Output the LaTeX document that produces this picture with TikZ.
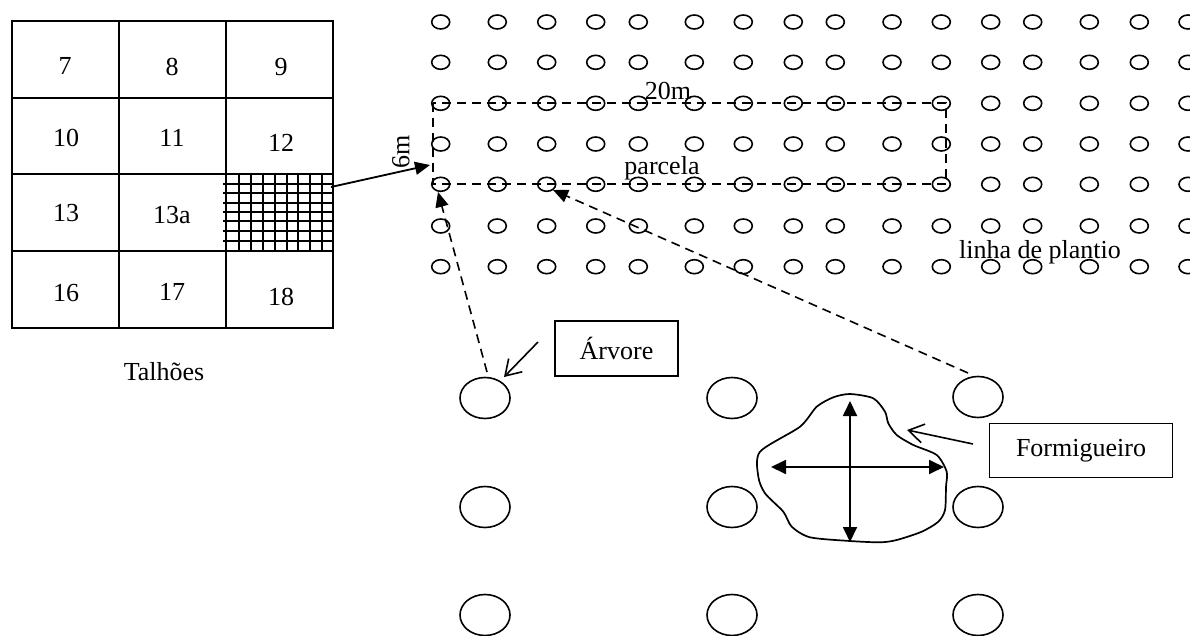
\documentclass[tikz,border=0pt]{standalone}
\usepackage{fontspec}
\setmainfont{Liberation Serif}
\usetikzlibrary{arrows.meta,shapes.geometric}
\begin{document}
\begin{tikzpicture}[x=1pt,y=-1pt,
  lbl/.style={font=\fontsize{26}{30}\selectfont, inner sep=0pt},
  gridline/.style={line width=2.2pt},
  hatch/.style={line width=1.8pt},
  dot/.style={line width=1.6pt},
  tree/.style={draw, ellipse, line width=1.6pt, minimum width=50pt, minimum height=41pt, inner sep=0pt},
  labelbox/.style={draw, line width=1.6pt, font=\fontsize{26}{30}\selectfont, inner sep=0pt},
  dashline/.style={line width=1.6pt, dash pattern=on 9pt off 6pt},
  solidarrow/.style={line width=1.8pt, -{Triangle[length=15pt,width=13pt]}},
  dasharrow/.style={line width=1.6pt, dash pattern=on 9pt off 6pt, -{Triangle[length=15pt,width=13pt]}},
  barbarrow/.style={line width=1.6pt, -{Straight Barb[length=15pt,width=19pt]}},
  dblarrow/.style={line width=1.8pt, {Triangle[length=15pt,width=14pt]}-{Triangle[length=15pt,width=14pt]}}
]
\useasboundingbox (0,0) rectangle (1190,636);
\fill[white] (0,0) rectangle (1190,636);

% --- Talhoes grid ---
\foreach \yy in {184.3,193.3,202.7,211.7,221,230.7,240.7}
  \draw[hatch] (223,\yy) -- (333,\yy);
\foreach \xx in {238.7,250.7,263.3,275,286.7,298.3,310,322.3}
  \draw[hatch] (\xx,174) -- (\xx,251);
\draw[gridline] (12,21) rectangle (333,328);
\foreach \xx in {119,226}
  \draw[gridline] (\xx,21) -- (\xx,328);
\foreach \yy in {98,174,251}
  \draw[gridline] (12,\yy) -- (333,\yy);

\node[lbl] (n7)  at (65,66)  {7};
\node[lbl] (n8)  at (172,67) {8};
\node[lbl] (n9)  at (281,67) {9};
\node[lbl] (n10) at (66,138) {10};
\node[lbl] (n11) at (172,138) {11};
\node[lbl] (n12) at (281,143) {12};
\node[lbl] (n13) at (66,213) {13};
\node[lbl] (n13a) at (172,215) {13a};
\node[lbl] (n16) at (66,293) {16};
\node[lbl] (n17) at (172,292) {17};
\node[lbl] (n18) at (281,297) {18};
\node[lbl] (talhoes) at (164,372) {Talhões};

% --- planting dots ---
\foreach \xx in {440.7,497.3,546.7,595.7,638.3,694.3,743.3,793.3,835.3,892,941.3,990.7,1032.7,1089.3,1139.3,1188}
  \foreach \yy in {22,62.3,103.3,144,184.3,226,266.7}
    \draw[dot] (\xx,\yy) ellipse [x radius=9, y radius=7];

% --- parcela ---
\draw[dashline] (433,103.3) rectangle (946,184.3);
\node[lbl] (m20) at (668,91) {20m};
\node[lbl] (parcela) at (662,168) {parcela};
\node[lbl, rotate=90] (m6) at (401,152) {6m};
\node[lbl] (linha) at (1040,252) {linha de plantio};

\coordinate (hs) at (331,187);
\coordinate (pl) at (430,165);
\draw[solidarrow] (hs) -- (pl);

% --- trees ---
\node[tree] (t11) at (485,398) {};
\node[tree] (t12) at (732,398) {};
\node[tree] (t13) at (978,397) {};
\node[tree] (t21) at (485,507) {};
\node[tree] (t22) at (732,507) {};
\node[tree] (t23) at (978,507) {};
\node[tree] (t31) at (485,615) {};
\node[tree] (t32) at (732,615) {};
\node[tree] (t33) at (978,615) {};

\coordinate (a1s) at (487,372);
\coordinate (a1e) at (438,192);
\draw[dasharrow] (a1s) -- (a1e);
\coordinate (a2s) at (968,373);
\coordinate (a2e) at (553,190);
\draw[dasharrow] (a2s) -- (a2e);

% --- boxes ---
\node[labelbox, minimum width=123pt, minimum height=55pt] (arvore) at (616.5,348.5) {Árvore};
\coordinate (arvs) at (538,342);
\coordinate (arve) at (504,377);
\draw[barbarrow] (arvs) -- (arve);

\node[labelbox, minimum width=183pt, minimum height=54pt] (formig) at (1081,450.5) {Formigueiro};
\coordinate (fs) at (973,444);
\coordinate (fe) at (907,430);
\draw[barbarrow] (fs) -- (fe);

% --- ant hill ---
\draw[line width=1.7pt] plot[smooth cycle, tension=0.45] coordinates {
 (850,394) (873.3,398.3) (885,411.7) (888.3,423.3) (896.7,435) (913.3,445)
 (936.7,455) (946.7,471.7) (946,486.7) (945,510) (938.3,521.7) (921.7,531.7)
 (896.7,540) (880,542.3) (850,541) (810,537.3) (791.7,526.7) (783.3,511.7)
 (765,493.3) (758.3,476.7) (760,451.7) (800,426.7) (816.7,406.7) (833.3,397.3)};
\coordinate (vt) at (850,401);
\coordinate (vb) at (850,542);
\coordinate (hl) at (771,467);
\coordinate (hr) at (944,467);
\draw[dblarrow] (vt) -- (vb);
\draw[dblarrow] (hl) -- (hr);
\end{tikzpicture}
\end{document}
